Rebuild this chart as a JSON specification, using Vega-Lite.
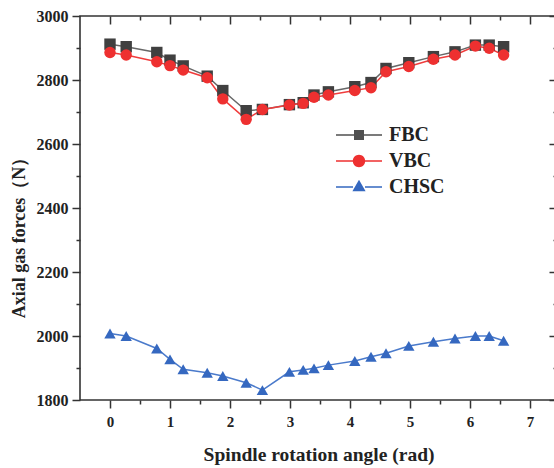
{
  "$schema": "https://vega.github.io/schema/vega-lite/v6.json",
  "width": 477,
  "height": 384,
  "autosize": {"type": "none"},
  "padding": {"left": 80, "top": 16, "right": 0, "bottom": 68},
  "background": "white",
  "config": {
    "view": {"stroke": "#333", "strokeWidth": 1.6},
    "axis": {
      "grid": false, "domain": false,
      "labelFont": "Liberation Serif", "labelFontWeight": "bold", "labelFontSize": 15, "labelColor": "#222",
      "tickColor": "#333", "tickWidth": 1.5,
      "titleFont": "Liberation Serif", "titleFontWeight": "bold", "titleColor": "#222"
    }
  },
  "data": {"values": [
    {"angle": 0, "series": "FBC", "force": 2912},
    {"angle": 0.27, "series": "FBC", "force": 2904},
    {"angle": 0.78, "series": "FBC", "force": 2886},
    {"angle": 1.0, "series": "FBC", "force": 2862},
    {"angle": 1.22, "series": "FBC", "force": 2844},
    {"angle": 1.62, "series": "FBC", "force": 2812},
    {"angle": 1.88, "series": "FBC", "force": 2767},
    {"angle": 2.27, "series": "FBC", "force": 2704},
    {"angle": 2.54, "series": "FBC", "force": 2708},
    {"angle": 2.99, "series": "FBC", "force": 2723},
    {"angle": 3.22, "series": "FBC", "force": 2729},
    {"angle": 3.4, "series": "FBC", "force": 2753},
    {"angle": 3.64, "series": "FBC", "force": 2763},
    {"angle": 4.08, "series": "FBC", "force": 2779},
    {"angle": 4.35, "series": "FBC", "force": 2792},
    {"angle": 4.6, "series": "FBC", "force": 2836},
    {"angle": 4.98, "series": "FBC", "force": 2854},
    {"angle": 5.39, "series": "FBC", "force": 2873},
    {"angle": 5.75, "series": "FBC", "force": 2888},
    {"angle": 6.09, "series": "FBC", "force": 2909},
    {"angle": 6.32, "series": "FBC", "force": 2909},
    {"angle": 6.56, "series": "FBC", "force": 2904},
    {"angle": 0, "series": "VBC", "force": 2886},
    {"angle": 0.27, "series": "VBC", "force": 2878},
    {"angle": 0.78, "series": "VBC", "force": 2857},
    {"angle": 1.0, "series": "VBC", "force": 2845},
    {"angle": 1.22, "series": "VBC", "force": 2831},
    {"angle": 1.62, "series": "VBC", "force": 2807},
    {"angle": 1.88, "series": "VBC", "force": 2741},
    {"angle": 2.27, "series": "VBC", "force": 2677},
    {"angle": 2.54, "series": "VBC", "force": 2708},
    {"angle": 2.99, "series": "VBC", "force": 2722},
    {"angle": 3.22, "series": "VBC", "force": 2727},
    {"angle": 3.4, "series": "VBC", "force": 2746},
    {"angle": 3.64, "series": "VBC", "force": 2753},
    {"angle": 4.08, "series": "VBC", "force": 2767},
    {"angle": 4.35, "series": "VBC", "force": 2776},
    {"angle": 4.6, "series": "VBC", "force": 2826},
    {"angle": 4.98, "series": "VBC", "force": 2842},
    {"angle": 5.39, "series": "VBC", "force": 2865},
    {"angle": 5.75, "series": "VBC", "force": 2878},
    {"angle": 6.09, "series": "VBC", "force": 2906},
    {"angle": 6.32, "series": "VBC", "force": 2899},
    {"angle": 6.56, "series": "VBC", "force": 2878},
    {"angle": 0, "series": "CHSC", "force": 2008},
    {"angle": 0.27, "series": "CHSC", "force": 2000},
    {"angle": 0.78, "series": "CHSC", "force": 1961},
    {"angle": 1.0, "series": "CHSC", "force": 1927},
    {"angle": 1.22, "series": "CHSC", "force": 1896},
    {"angle": 1.62, "series": "CHSC", "force": 1885},
    {"angle": 1.88, "series": "CHSC", "force": 1875},
    {"angle": 2.27, "series": "CHSC", "force": 1854},
    {"angle": 2.54, "series": "CHSC", "force": 1831},
    {"angle": 2.99, "series": "CHSC", "force": 1888},
    {"angle": 3.22, "series": "CHSC", "force": 1894},
    {"angle": 3.4, "series": "CHSC", "force": 1899},
    {"angle": 3.64, "series": "CHSC", "force": 1909},
    {"angle": 4.08, "series": "CHSC", "force": 1922},
    {"angle": 4.35, "series": "CHSC", "force": 1935},
    {"angle": 4.6, "series": "CHSC", "force": 1946},
    {"angle": 4.98, "series": "CHSC", "force": 1969},
    {"angle": 5.39, "series": "CHSC", "force": 1982},
    {"angle": 5.75, "series": "CHSC", "force": 1992},
    {"angle": 6.09, "series": "CHSC", "force": 2000},
    {"angle": 6.32, "series": "CHSC", "force": 2000},
    {"angle": 6.56, "series": "CHSC", "force": 1985}
  ]},
  "resolve": {"axis": {"x": "independent", "y": "independent"}, "scale": {"shape": "independent", "color": "independent"}},
  "layer": [
    {
      "mark": {"type": "line", "strokeWidth": 1.5},
      "encoding": {
        "x": {"field": "angle", "type": "quantitative",
          "scale": {"domain": [-0.5, 7.45], "nice": false, "zero": false},
          "axis": {"orient": "bottom", "values": [0,1,2,3,4,5,6,7], "format": "d", "tickSize": 8, "labelPadding": 6,
            "labelFont": "Liberation Serif", "labelFontWeight": "bold", "labelFontSize": 15,
            "title": "Spindle rotation angle (rad)", "titleFontSize": 19.5, "titlePadding": 16}},
        "y": {"field": "force", "type": "quantitative",
          "scale": {"domain": [1800, 3000], "nice": false, "zero": false},
          "axis": {"orient": "left", "values": [1800,2000,2200,2400,2600,2800,3000], "format": "d", "tickSize": 8, "labelPadding": 4,
            "labelFont": "Liberation Serif", "labelFontWeight": "bold", "labelFontSize": 16,
            "title": "Axial gas forces（N）", "titleFontSize": 18, "titlePadding": 8, "titleY": 217}},
        "color": {"field": "series", "type": "nominal",
          "scale": {"domain": ["FBC", "VBC", "CHSC"], "range": ["#686868", "#f03c3c", "#4a7acb"]},
          "legend": null}
      }
    },
    {
      "mark": {"type": "point", "filled": true, "opacity": 1, "size": 130},
      "encoding": {
        "x": {"field": "angle", "type": "quantitative",
          "axis": {"orient": "bottom", "values": [0.5,1.5,2.5,3.5,4.5,5.5,6.5], "tickSize": 4, "labels": false, "title": null}},
        "y": {"field": "force", "type": "quantitative",
          "axis": {"orient": "left", "values": [1900,2100,2300,2500,2700,2900], "tickSize": 4, "labels": false, "title": null}},
        "color": {"field": "series", "type": "nominal",
          "scale": {"domain": ["FBC", "VBC", "CHSC"], "range": ["#404040", "#ee3030", "#3568c0"]},
          "legend": null},
        "shape": {"field": "series", "type": "nominal",
          "scale": {"domain": ["FBC", "VBC", "CHSC"], "range": ["square", "circle", "triangle-up"]}, "legend": null}
      }
    },
    {
      "mark": {"type": "point", "filled": true, "opacity": 0},
      "encoding": {
        "x": {"field": "angle", "type": "quantitative",
          "axis": {"orient": "top", "values": [0,1,2,3,4,5,6,7], "tickSize": -8, "labels": false, "title": null}},
        "y": {"field": "force", "type": "quantitative",
          "axis": {"orient": "right", "values": [1800,2000,2200,2400,2600,2800,3000], "tickSize": -8, "labels": false, "title": null}},
        "color": {"field": "series", "type": "nominal",
          "scale": {"domain": ["FBC", "VBC", "CHSC"], "range": ["#505050", "#ee3030", "#3568c0"]},
          "legend": {
            "title": null, "orient": "none", "legendX": 268, "legendY": 108, "padding": 0,
            "symbolSize": 400, "symbolOpacity": 1, "rowPadding": 5, "labelOffset": 19,
            "labelFont": "Liberation Serif", "labelFontWeight": "bold", "labelFontSize": 20, "labelColor": "#222"}},
        "shape": {"field": "series", "type": "nominal",
          "scale": {"domain": ["FBC", "VBC", "CHSC"], "range": [
            "M-2.3,-0.08H-0.5V0.08H-2.3ZM0.5,-0.08H2.3V0.08H0.5ZM-0.5,-0.5H0.5V0.5H-0.5Z",
            "M-2.3,-0.08H-0.6V0.08H-2.3ZM0.6,-0.08H2.3V0.08H0.6ZM0.62,0A0.62,0.62,0,1,1,-0.62,0A0.62,0.62,0,1,1,0.62,0Z",
            "M-2.3,-0.08H-0.6V0.08H-2.3ZM0.6,-0.08H2.3V0.08H0.6ZM0,-0.72L0.66,0.42H-0.66Z"]},
          "legend": {
            "title": null, "orient": "none", "legendX": 268, "legendY": 108, "padding": 0,
            "symbolSize": 400, "symbolOpacity": 1, "rowPadding": 5, "labelOffset": 19,
            "labelFont": "Liberation Serif", "labelFontWeight": "bold", "labelFontSize": 20, "labelColor": "#222"}}
      }
    },
    {
      "mark": {"type": "point", "opacity": 0},
      "encoding": {
        "x": {"field": "angle", "type": "quantitative",
          "axis": {"orient": "top", "values": [0.5,1.5,2.5,3.5,4.5,5.5,6.5], "tickSize": -4, "labels": false, "title": null}},
        "y": {"field": "force", "type": "quantitative",
          "axis": {"orient": "right", "values": [1900,2100,2300,2500,2700,2900], "tickSize": -4, "labels": false, "title": null}}
      }
    }
  ]
}
